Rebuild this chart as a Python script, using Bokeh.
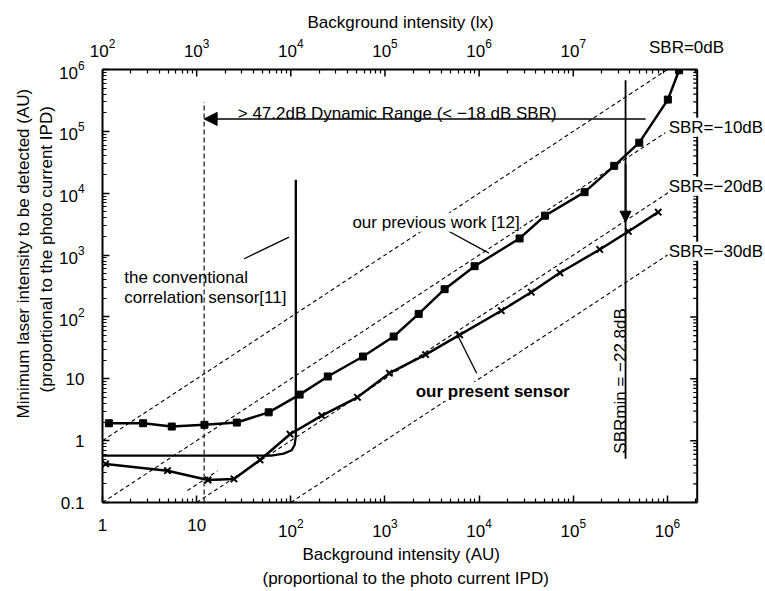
import math
from bokeh.plotting import figure
from bokeh.models import (LogAxis, Range1d, FixedTicker, LogTickFormatter, Label, Arrow,
                          NormalHead, LogScale, Title)
from bokeh.embed import file_html
from bokeh.resources import INLINE

FONT = "Liberation Sans"

# ---------------- data ----------------
# our previous work [12] (squares)
prev_x = [1.17, 2.70, 5.44, 12.1, 26.7, 58.2, 124, 247, 584, 1237, 2280, 4300, 8950,
          26900, 50000, 131800, 272000, 502000, 1.01e6, 1.33e6]
prev_y = [1.91, 1.91, 1.69, 1.80, 1.96, 2.87, 5.55, 10.9, 22.9, 48.2, 112, 281, 661,
          1857, 4330, 10400, 27700, 65600, 326000, 971000]

# our present sensor (x markers)
pres_x = [1.08, 4.9, 13.2, 24.9, 47.1, 98, 213, 510, 1114, 2700, 6210, 17200, 35800,
          72100, 191000, 384000, 798000]
pres_y = [0.42, 0.327, 0.231, 0.240, 0.487, 1.27, 2.54, 5.02, 12.3, 24.6, 51.3, 126,
          251, 517, 1232, 2410, 4940]

# the conventional correlation sensor [11]
conv_x = [1, 62, 84, 102, 110, 113, 113]
conv_y = [0.572, 0.572, 0.616, 0.70, 0.86, 1.16, 16500]

# SBR reference lines (signal = background * 10^(dB/10))
sbr_db = [0, -10, -20, -30]
sbr_x0 = [1, 1, 10, 100]
sbr_x1 = [1.48e6, 9.5e5, 1.08e6, 1.0e6]
sbr_labels = ["SBR=0dB", "SBR=\u221210dB", "SBR=\u221220dB", "SBR=\u221230dB"]

# short -18 dB segment near the dynamic-range start
seg18_x = [8.0, 16.6]
seg18_gain = 0.0195

# dynamic range marker
dr_x = 12.0            # dashed vertical line position (AU)
dr_top = 2.98e5
dr_arrow_from = 5.86e5
dr_arrow_y = 1.59e5

# SBRmin marker
sbrmin_x = 3.59e5
sbrmin_y = [0.51, 6.68e5]
sbrmin_tip = 3400

# axes
x_start, x_box_end, x_frame_end = 1.0, 2.07e6, 1.1e7
y_start, y_end = 0.1, 1e6
lx_per_au = 100.0
au_major = [1, 10, 1e2, 1e3, 1e4, 1e5, 1e6]
y_major = [0.1, 1, 10, 1e2, 1e3, 1e4, 1e5, 1e6]
lx_major = [1e2, 1e3, 1e4, 1e5, 1e6, 1e7]
sbr0_label_lx = 1.595e8   # top-axis slot that carries the "SBR=0dB" text


def minors(lo_exp, hi_exp, limit=float("inf")):
    return [m * 10.0 ** e for e in range(lo_exp, hi_exp) for m in range(2, 10)
            if m * 10.0 ** e <= limit]


# ---------------- figure ----------------
p = figure(width=765, height=591, x_axis_type="log", y_axis_type="log",
           x_range=Range1d(x_start, x_frame_end), y_range=Range1d(y_start, y_end),
           output_backend="svg", toolbar_location=None,
           min_border_left=102, min_border_right=0, min_border_top=69, min_border_bottom=89,
           background_fill_color="white", border_fill_color="white")
p.title.visible = False
p.extra_x_ranges = {"lx": Range1d(x_start * lx_per_au, x_frame_end * lx_per_au)}
p.extra_x_scales = {"lx": LogScale()}
p.grid.visible = False
p.outline_line_color = None


def style_axis(ax, standoff, major_in=7):
    ax.axis_line_width = 2
    ax.axis_line_color = "black"
    ax.major_tick_in = major_in
    ax.major_tick_out = 0
    ax.minor_tick_in = 4
    ax.minor_tick_out = 0
    ax.major_tick_line_width = 1.5
    ax.minor_tick_line_width = 1.2
    ax.major_tick_line_color = "black"
    ax.minor_tick_line_color = "black"
    ax.major_label_text_font = FONT
    ax.major_label_text_font_size = "17px"
    ax.major_label_text_color = "black"
    ax.major_label_standoff = standoff


xa = p.xaxis[0]
xa.ticker = FixedTicker(ticks=au_major, minor_ticks=minors(0, 7, x_box_end))
xa.formatter = LogTickFormatter(min_exponent=2)
xa.bounds = (x_start, x_box_end)
style_axis(xa, 16)

ya = p.yaxis[0]
ya.ticker = FixedTicker(ticks=y_major, minor_ticks=minors(-1, 6))
ya.formatter = LogTickFormatter(min_exponent=2)
style_axis(ya, 18)

top = LogAxis(x_range_name="lx",
              ticker=FixedTicker(ticks=lx_major + [sbr0_label_lx],
                                 minor_ticks=minors(2, 9, x_box_end * lx_per_au)),
              formatter=LogTickFormatter(min_exponent=2),
              bounds=(x_start * lx_per_au, x_box_end * lx_per_au),
              major_label_overrides={sbr0_label_lx: sbr_labels[0]})
style_axis(top, 13, major_in=0)
p.add_layout(top, "above")


# axis titles (left-aligned with an offset from the frame start)
def title(text, side, offset, standoff):
    p.add_layout(Title(text=text, align="left", offset=offset, standoff=standoff,
                       text_font=FONT, text_font_size="17px", text_font_style="normal",
                       text_color="black"), side)


title("Background intensity (lx)", "above", 205, 6)
title("Background intensity (AU)", "below", 200, 6)
title("(proportional to the photo current IPD)", "below", 160, 1)
title("(proportional to the photo current IPD)", "left", 110, 0)
title("Minimum laser intensity to be detected (AU)", "left", 84, 4)

# right edge of the box, with inward ticks (through the data scales)
p.line([x_box_end, x_box_end], [y_start, y_end], line_width=2, line_color="black")
maj_len = 10 ** (7 / 94.2)
min_len = 10 ** (4 / 94.2)
rmin = minors(-1, 6)
p.segment(x0=[x_box_end] * len(y_major), y0=y_major,
          x1=[x_box_end / maj_len] * len(y_major), y1=y_major,
          line_width=1.5, line_color="black")
p.segment(x0=[x_box_end] * len(rmin), y0=rmin, x1=[x_box_end / min_len] * len(rmin), y1=rmin,
          line_width=1.2, line_color="black")
# major ticks of the top (lx) axis
top_len = 10 ** (7 / 61.8)
top_x = [v / lx_per_au for v in lx_major]
p.segment(x0=top_x, y0=[y_end] * len(top_x), x1=top_x, y1=[y_end / top_len] * len(top_x),
          line_width=1.5, line_color="black")

# ---------------- SBR dashed lines ----------------
for db, x0, x1 in zip(sbr_db, sbr_x0, sbr_x1):
    g = 10 ** (db / 10.0)
    p.line([x0, x1], [x0 * g, x1 * g], line_dash="4 3", line_width=1.1, line_color="black")

p.line(seg18_x, [v * seg18_gain for v in seg18_x], line_dash="4 3", line_width=1.1,
       line_color="black")

# dashed vertical line of dynamic range start
p.line([dr_x, dr_x], [y_start, dr_top], line_dash="5 3", line_width=1.1, line_color="black")

# ---------------- curves ----------------
p.line(conv_x, conv_y, line_width=2.3, line_color="black", line_join="round")
p.line(prev_x, prev_y, line_width=2.5, line_color="black", line_join="round")
p.scatter(prev_x, prev_y, marker="square", size=7, fill_color="black", line_color="black")
p.line(pres_x, pres_y, line_width=2.5, line_color="black", line_join="round")
p.scatter(pres_x, pres_y, marker="x", size=9, line_width=2, line_color="black")

# SBRmin vertical line with arrow
p.line([sbrmin_x, sbrmin_x], sbrmin_y, line_width=1.8, line_color="black")
p.add_layout(Arrow(x_start=sbrmin_x, y_start=3e4, x_end=sbrmin_x, y_end=sbrmin_tip,
                   line_width=1.8, line_color="black",
                   end=NormalHead(size=11, fill_color="black", line_color="black")))

# dynamic range arrow
p.add_layout(Arrow(x_start=dr_arrow_from, y_start=dr_arrow_y, x_end=dr_x, y_end=dr_arrow_y,
                   line_width=1.5, line_color="black",
                   end=NormalHead(size=13, fill_color="black", line_color="black")))

# leader lines
p.segment(x0=[31.9, 4590, 5770], y0=[871, 2500, 54.5],
          x1=[95.7, 12700, 9410], y1=[1950, 1073, 12.3],
          line_width=1.3, line_color="black")


# ---------------- texts ----------------
def lab(x, y, text, align="left", baseline="alphabetic", angle=0.0, bold=False, bg=None,
        size="17px"):
    l = Label(x=x, y=y, text=text, text_font=FONT, text_font_size=size,
              text_color="black", text_align=align, text_baseline=baseline, angle=angle,
              text_font_style="bold" if bold else "normal")
    if bg:
        l.background_fill_color = bg
    p.add_layout(l)


lab(27.3, 1.93e5, "> 47.2dB Dynamic Range (< \u221218 dB SBR)")
lab(1.70, 439, "the conventional")
lab(1.70, 208, "correlation sensor[11]")
lab(451, 3400, "our previous work [12]", bg="white")
lab(2118, 6.21, "our present sensor", bold=True, bg="white")

sbr_lab_x = [1.03e6, 1.03e6, 1.03e6]
sbr_lab_y = [1.17e5, 1.29e4, 1156]
for t, x, y in zip(sbr_labels[1:], sbr_lab_x, sbr_lab_y):
    lab(x, y, t, bg="white")

lab(3.18e5, 0.616, "SBRmin = \u221222.8dB", angle=math.pi / 2)

open("out.html", "w").write(file_html(p, INLINE))
